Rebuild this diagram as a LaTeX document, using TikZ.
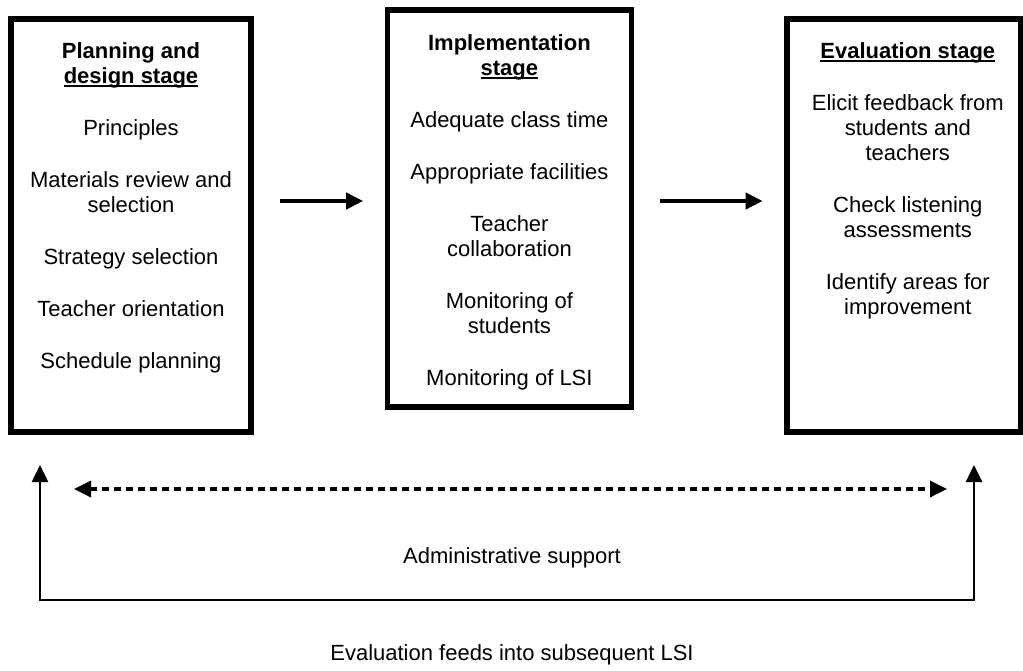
\documentclass[tikz,border=0pt]{standalone}
\usepackage{fontspec}
\setmainfont{Liberation Sans}
\usetikzlibrary{arrows.meta,positioning,calc}

\newsavebox{\ulbox}
\newcommand{\ulstage}[1]{\sbox{\ulbox}{#1}\rlap{\rule[-1.6pt]{\wd\ulbox}{0.7pt}}\usebox{\ulbox}}

\begin{document}
\begin{tikzpicture}[
  x=0.5pt, y=-0.5pt,
  >={Triangle[length=8.5pt,width=8pt]},
  stage/.style={draw, line width=2.7pt, inner sep=0pt},
  stagetext/.style={align=center, inner sep=0pt,
                    font=\fontsize{11}{12.5}\selectfont},
  flow/.style={->, line width=2pt, shorten <=13pt, shorten >=10.75pt},
  support/.style={<->, line width=1.7pt, dash pattern=on 3.5pt off 2.5pt},
  feedback/.style={<->, line width=1.3pt},
  remark/.style={font=\fontsize{11}{12.5}\selectfont}
]
  \useasboundingbox (0,0) rectangle (1023,670);
  %% The three stages
  \node[stage, minimum width=120pt, minimum height=206.5pt] (plan) at (131,225.5) {};
  \node[stage, minimum width=122pt, minimum height=198.5pt,
        right=65.5pt of plan, yshift=8.5pt] (impl) {};
  \node[stage, minimum width=117pt, minimum height=206.5pt,
        right=75pt of impl, yshift=-8.5pt] (eval) {};
  %% Contents of the stages
  \node[stagetext, below=13pt of plan.north] (plantext)
    {\textbf{Planning and}\\ \ulstage{\textbf{design stage}}\\[13.5pt]
     Principles\\[13.5pt]
     Materials review and\\ selection\\[13.5pt]
     Strategy selection\\[13.5pt]
     Teacher orientation\\[13.5pt]
     Schedule planning};
  \node[stagetext, below=13.5pt of impl.north] (impltext)
    {\textbf{Implementation}\\ \ulstage{\textbf{stage}}\\[13.5pt]
     Adequate class time\\[13.5pt]
     Appropriate facilities\\[13.5pt]
     Teacher\\ collaboration\\[13.5pt]
     Monitoring of\\ students\\[13.5pt]
     Monitoring of LSI};
  \node[stagetext, below=13pt of eval.north, xshift=2pt] (evaltext)
    {\ulstage{\textbf{Evaluation stage}}\\[13.5pt]
     Elicit feedback from\\ students and\\ teachers\\[13.5pt]
     Check listening\\ assessments\\[13.5pt]
     Identify areas for\\ improvement};
  %% Stage to stage
  \coordinate (flowy) at (0,201);
  \draw[flow] (plan.east |- flowy) -- (impl.west |- flowy);
  \draw[flow] (impl.east |- flowy) -- (eval.west |- flowy);
  %% Support across all stages
  \coordinate (supL) at (74,489);
  \coordinate (supR) at (947,489);
  \draw[support] (supL) -- (supR);
  \node[remark] (admin) at (512,558) {Administrative support};
  %% Feedback loop
  \coordinate (fbL) at (40,465);
  \coordinate (fbR) at (974,465);
  \draw[feedback] (fbL) -- ++(0,135) -| (fbR);
  \node[remark] (feeds) at (512,655) {Evaluation feeds into subsequent LSI};
\end{tikzpicture}
\end{document}
